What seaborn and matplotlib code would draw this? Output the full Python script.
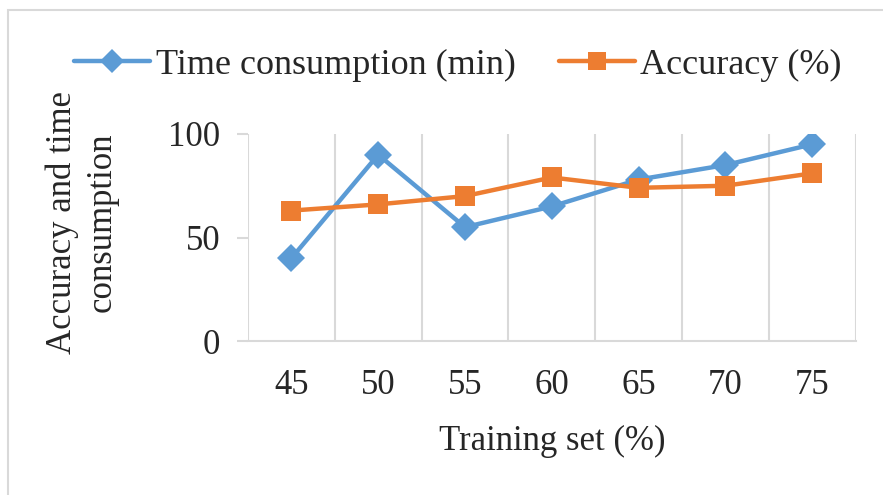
import matplotlib
matplotlib.use("Agg")
import matplotlib.pyplot as plt
from matplotlib.lines import Line2D
from matplotlib.patches import Rectangle
import numpy as np
import pandas as pd
import seaborn as sns

# Chart data
training_set = [45, 50, 55, 60, 65, 70, 75]
time_consumption = [40, 90, 55, 65, 78, 85, 95]
accuracy = [63, 66, 70, 79, 74, 75, 81]
y_ticks = [0, 50, 100]

series_names = ["Time consumption (min)", "Accuracy (%)"]
colors = {"Time consumption (min)": "#5B9BD5", "Accuracy (%)": "#ED7D31"}
markers = {"Time consumption (min)": "D", "Accuracy (%)": "s"}
marker_sizes = {"Time consumption (min)": 14, "Accuracy (%)": 15}

df = pd.DataFrame({
    "Training set (%)": training_set * 2,
    "value": time_consumption + accuracy,
    "series": [series_names[0]] * len(training_set) + [series_names[1]] * len(training_set),
})

sns.set_theme(style="white")
plt.rcParams["font.family"] = ["Liberation Serif", "DejaVu Serif"]
text_color = "#262626"
grid_color = "#D9D9D9"
fs = 25

fig = plt.figure(figsize=(8.83, 4.95), dpi=100)
fig.patch.set_facecolor("white")

# chart-area border
fig.patches.append(Rectangle((8 / 883, -0.1), 1.2, 1 - 10 / 495 + 0.1,
                             transform=fig.transFigure, fill=False,
                             edgecolor=grid_color, linewidth=1.5))

ax = fig.add_axes([248 / 883, 1 - 341 / 495, (855.6 - 248) / 883, (341 - 134) / 495])

for name in series_names:
    sub = df[df["series"] == name]
    sns.lineplot(data=sub, x="Training set (%)", y="value", ax=ax,
                 color=colors[name], marker=markers[name],
                 markersize=marker_sizes[name], markeredgewidth=0,
                 linewidth=3.2, label=None, legend=False, zorder=3)

step = training_set[1] - training_set[0]
ax.set_xlim(training_set[0] - step / 2, training_set[-1] + step / 2)
ax.set_ylim(0, 100)

# category boundaries as vertical grid lines
bounds = [x - step / 2 for x in training_set] + [training_set[-1] + step / 2]
ax.set_xticks(bounds, minor=True)
ax.set_xticks(training_set)
ax.set_xticklabels([str(v) for v in training_set])
ax.set_yticks(y_ticks)
ax.grid(False)
ax.grid(True, axis="x", which="minor", color=grid_color, linewidth=1.5, zorder=0)

for side in ["top", "right", "left"]:
    ax.spines[side].set_visible(False)
ax.spines["bottom"].set_color(grid_color)
ax.spines["bottom"].set_linewidth(1.5)

ax.tick_params(axis="x", which="major", length=0, pad=20, labelsize=fs, labelcolor=text_color)
ax.tick_params(axis="x", which="minor", length=8, width=1.5, color=grid_color, direction="out")
ax.tick_params(axis="y", which="major", length=8, width=1.5, color=grid_color,
               direction="out", pad=12, labelsize=fs, labelcolor=text_color, left=True)

ax.set_xlabel("Training set (%)", fontsize=fs, color=text_color, labelpad=17)
ax.set_ylabel("")
fig.text(82 / 883, 1 - 222 / 495, "Accuracy and time\nconsumption", rotation=90,
         ha="center", va="center", multialignment="center",
         fontsize=fs, color=text_color, linespacing=1.25)

handles = [Line2D([], [], color=colors[n], marker=markers[n], markersize=marker_sizes[n] * 0.85,
                  markeredgewidth=0, linewidth=3.2) for n in series_names]
fig.legend(handles, series_names, loc="center", bbox_to_anchor=(458 / 883, 1 - 65 / 495),
           ncol=2, frameon=False, fontsize=26, handlelength=2.1, handletextpad=0.15,
           columnspacing=1.2, labelcolor=text_color)

fig.savefig("out.png", dpi=100)
